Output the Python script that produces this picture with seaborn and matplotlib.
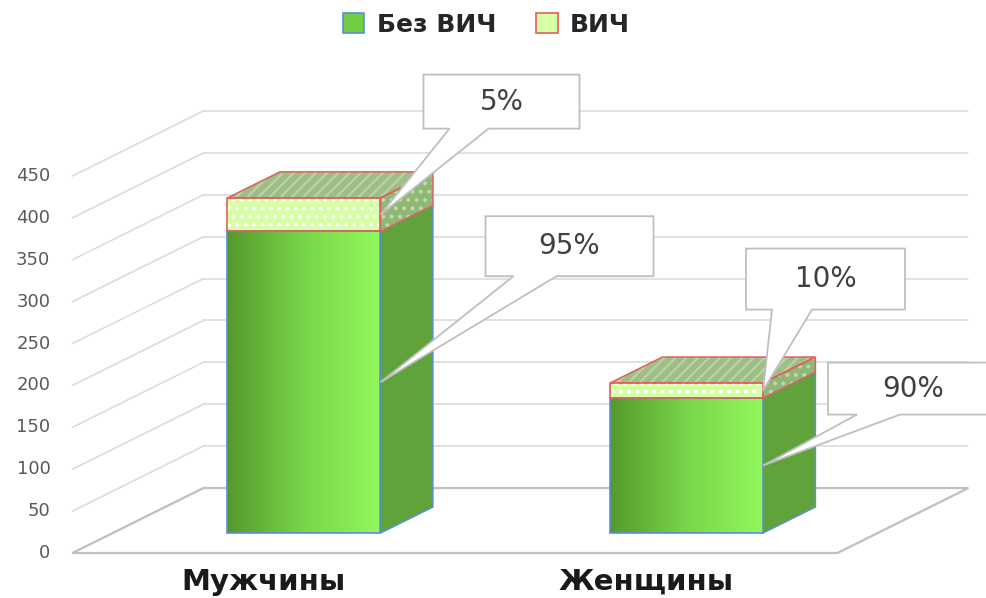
import numpy as np
import pandas as pd
import matplotlib
matplotlib.use("Agg")
import matplotlib.pyplot as plt
import seaborn as sns
from matplotlib.patches import Polygon, Rectangle, Patch
from matplotlib.colors import LinearSegmentedColormap
from matplotlib.transforms import IdentityTransform, blended_transform_factory

# ---------------- data ----------------
categories = ["Мужчины", "Женщины"]
series_names = ["Без ВИЧ", "ВИЧ"]
no_hiv = [360, 161]
hiv = [40, 18]
pct_no_hiv = ["95%", "90%"]
pct_hiv = ["5%", "10%"]
y_ticks = [0, 50, 100, 150, 200, 250, 300, 350, 400, 450]

# ---------------- style ----------------
sns.set_theme(style="white")
plt.rcParams["font.family"] = ["DejaVu Sans"]
plt.rcParams["hatch.linewidth"] = 1.6

GRID = "#d9d9d9"
FLOOR = "#bfbfbf"
BLUE_EDGE = "#5b8fd6"
RED_EDGE = "#e0605a"
SIDE_GREEN = "#60a33a"
HIV_FRONT = "#d6ffa6"
HIV_SIDE = "#8fb874"
HIV_TOP = "#9dbf85"
TXT = "#404040"
TICK = "#595959"

# layout of the oblique projection (pixels)
PX_CAT = 382.5
PX_VAL = 0.8378
X0PIX, Y0PIX = 304.0, 533.0
W_PX, H_PX = 987, 598
DX = 131 / PX_CAT          # depth shift in category units (full depth)
DY = 65 / PX_VAL           # depth shift in value units (full depth)
D_FRONT, D_BAR, D_BACK = -0.308, 0.40, 0.692
BAR_W = 0.40


def proj(x, v, d):
    return (x + d * DX, v + d * DY)


fig = plt.figure(figsize=(W_PX / 100, H_PX / 100), dpi=100)
ax = fig.add_axes([0, 0, 1, 1])

df = pd.DataFrame({"cat": categories, "no_hiv": no_hiv, "hiv": hiv})
df["total"] = df["no_hiv"] + df["hiv"]

sns.barplot(data=df, x="cat", y="total", color=HIV_FRONT, saturation=1,
            width=BAR_W, errorbar=None, ax=ax, zorder=5, linewidth=0)
sns.barplot(data=df, x="cat", y="no_hiv", color="#7ad84a", saturation=1,
            width=BAR_W, errorbar=None, ax=ax, zorder=6, linewidth=0)

xlim = ((0 - X0PIX) / PX_CAT, (W_PX - X0PIX) / PX_CAT)
ylim = ((Y0PIX - H_PX) / PX_VAL, Y0PIX / PX_VAL)

bars_total = ax.patches[:2]
bars_no = ax.patches[2:4]

# back wall + left wall gridlines
xl, xr = -0.5, 1.5
for v in y_ticks[1:]:
    p1, p2 = proj(xl, v, D_BACK), proj(xr, v, D_BACK)
    ax.plot([p1[0], p2[0]], [p1[1], p2[1]], color=GRID, lw=1.1, zorder=1)
    q1 = proj(xl, v, D_FRONT)
    ax.plot([q1[0], p1[0]], [q1[1], p1[1]], color=GRID, lw=1.1, zorder=1)

# floor
floor = [proj(xl, 0, D_FRONT), proj(xr, 0, D_FRONT), proj(xr, 0, D_BACK), proj(xl, 0, D_BACK)]
ax.add_patch(Polygon(floor, closed=True, facecolor="white", edgecolor=FLOOR, lw=1.6, zorder=2))

# tick labels on front plane
for v in y_ticks:
    p = proj(xl, v, D_FRONT)
    ax.annotate(str(v), xy=p, xytext=(-22, 0), textcoords="offset pixels",
                ha="right", va="center", fontsize=13, color=TICK)

# gradient on front faces of "Без ВИЧ"
cmap = LinearSegmentedColormap.from_list("g", ["#55992e", "#78d548", "#92f85c"])
grad = np.linspace(0, 1, 256).reshape(1, -1)
for b in bars_no:
    x0, w, h = b.get_x(), b.get_width(), b.get_height()
    im = ax.imshow(grad, extent=[x0, x0 + w, 0, h], cmap=cmap, aspect="auto",
                   zorder=6.5, interpolation="bicubic")
    im.set_clip_path(b)
    ax.add_patch(Rectangle((x0, 0), w, h, facecolor="none", edgecolor=BLUE_EDGE, lw=1.2, zorder=7))

# 3D side / top faces and ВИЧ decorations
for i, (bt, bn) in enumerate(zip(bars_total, bars_no)):
    x0, w = bt.get_x(), bt.get_width()
    x1 = x0 + w
    a = bn.get_height()
    t = bt.get_height()
    side1 = [proj(x1, 0, 0), proj(x1, a, 0), proj(x1, a, D_BAR), proj(x1, 0, D_BAR)]
    ax.add_patch(Polygon(side1, closed=True, facecolor=SIDE_GREEN, edgecolor=BLUE_EDGE, lw=1.1, zorder=5))
    side2 = [proj(x1, a, 0), proj(x1, t, 0), proj(x1, t, D_BAR), proj(x1, a, D_BAR)]
    ax.add_patch(Polygon(side2, closed=True, facecolor=HIV_SIDE, edgecolor="none", zorder=5))
    ax.add_patch(Polygon(side2, closed=True, facecolor="none", edgecolor="#c2d8b0", hatch="..", lw=0, zorder=5.1))
    ax.add_patch(Polygon(side2, closed=True, facecolor="none", edgecolor=RED_EDGE, lw=1.1, zorder=5.2))
    top = [proj(x0, t, 0), proj(x1, t, 0), proj(x1, t, D_BAR), proj(x0, t, D_BAR)]
    ax.add_patch(Polygon(top, closed=True, facecolor=HIV_TOP, edgecolor="none", zorder=5))
    ax.add_patch(Polygon(top, closed=True, facecolor="none", edgecolor="#bcd1aa", hatch="///", lw=0, zorder=5.1))
    ax.add_patch(Polygon(top, closed=True, facecolor="none", edgecolor=RED_EDGE, lw=1.1, zorder=5.2))
    ax.add_patch(Rectangle((x0, a), w, t - a, facecolor="none", edgecolor="white", hatch="..", lw=0, zorder=6.6))
    ax.add_patch(Rectangle((x0, a), w, t - a, facecolor="none", edgecolor=RED_EDGE, lw=1.2, zorder=7))

ax.set_xlim(*xlim)
ax.set_ylim(*ylim)
ax.axis("off")

# category labels (front plane)
trans = blended_transform_factory(ax.transData, fig.transFigure)
for i, c in enumerate(categories):
    px = proj(i, 0, D_FRONT)[0]
    ax.text(px, 1 - 590 / H_PX, c, transform=trans, ha="center", va="baseline",
            fontsize=21, fontweight="bold", color="#1a1a1a")

# callouts: (box left, box right, box top, box bottom, wedge base l, wedge base r),
# pixel offsets from the pointer tip (image y-down)
callout_geom = {
    (0, 1): (43, 199, -140, -86, 69, 108),
    (0, 0): (105, 273, -166, -106, 133, 176),
    (1, 1): (-17, 142, -142, -81, 9, 49),
    (1, 0): (65, 236, -103, -51, 94, 137),
}
fig.canvas.draw()
for i, (bt, bn) in enumerate(zip(bars_total, bars_no)):
    x1 = bt.get_x() + bt.get_width()
    a = bn.get_height()
    t = bt.get_height()
    for s, (mid, lab) in enumerate([(a / 2, pct_no_hiv[i]), ((a + t) / 2, pct_hiv[i])]):
        tx, ty = ax.transData.transform((x1, mid))
        bl, br, btop, bbot, wl, wr = callout_geom[(i, s)]
        pts_img = [(bl, btop), (br, btop), (br, bbot), (wr, bbot), (0, 0), (wl, bbot), (bl, bbot)]
        pts = [(tx + dx, ty - dy) for dx, dy in pts_img]
        fig.patches.append(Polygon(pts, closed=True, facecolor="white", edgecolor="#bfbfbf",
                                   lw=1.3, transform=IdentityTransform(), figure=fig, zorder=10))
        cx = tx + (bl + br) / 2
        cy = ty - (btop + bbot) / 2
        fig.text(cx / W_PX, cy / H_PX, lab, ha="center", va="center", fontsize=20,
                 color=TXT, zorder=11)

# legend
handles = [Patch(facecolor="#72cc44", edgecolor=BLUE_EDGE, lw=1.2),
           Patch(facecolor=HIV_FRONT, edgecolor=RED_EDGE, lw=1.2)]
fig.legend(handles, series_names, loc="center", bbox_to_anchor=(0.493, 1 - 25 / H_PX),
           ncol=2, frameon=False, prop={"size": 18, "weight": "bold"},
           handlelength=0.85, handleheight=0.85, columnspacing=1.6, handletextpad=0.5,
           labelcolor="#262626")

fig.savefig("out.png", dpi=100)
